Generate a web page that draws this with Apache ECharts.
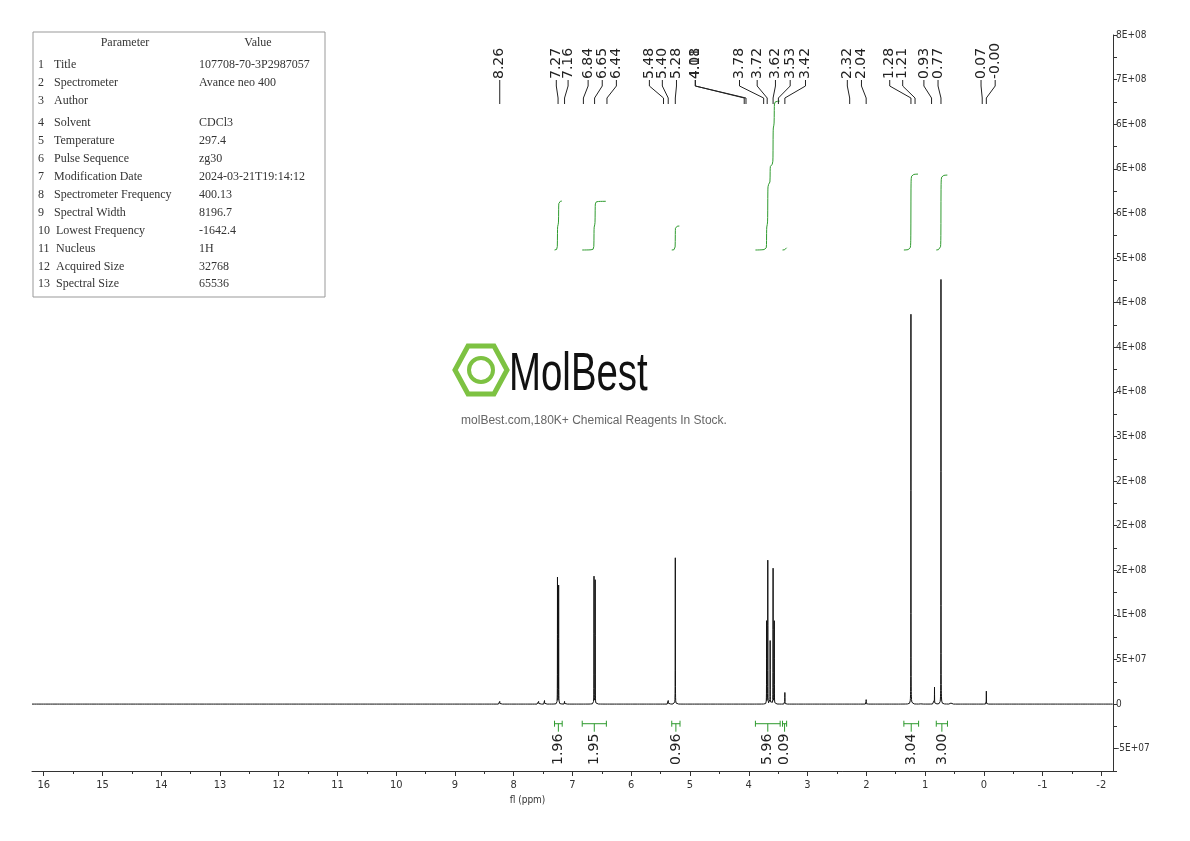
<!DOCTYPE html>
<html><head><meta charset="utf-8">
<script src="https://cdn.jsdelivr.net/npm/echarts@6/dist/echarts.min.js"></script>
<style>html,body{margin:0;background:#fff}#c{width:1190px;height:841px}</style>
</head><body><div id="c"></div>
<script>
// peaks: [ppm, height]
const peaks = [
  [8.26, 3e6], [7.60, 3e6], [7.50, 4e6], [7.28, 1.42e8], [7.26, 1.33e8], [7.16, 3e6],
  [6.66, 1.43e8], [6.64, 1.39e8], [5.40, 4e6], [5.28, 1.64e8], [4.08, 1.5e6],
  [3.73, 0.93e8], [3.71, 1.61e8], [3.67, 0.71e8], [3.62, 1.52e8], [3.60, 0.93e8],
  [3.42, 1.3e7], [2.04, 5e6], [1.43, 2e6], [1.28, 4.37e8], [1.11, 2e6],
  [0.93, 2e6], [0.88, 1.9e7], [0.77, 4.76e8], [0.60, 2e6], [0.00, 1.45e7]
];
const peakLabels = ['8.26','7.27','7.16','6.84','6.65','6.44','5.48','5.40','5.28','4.11','4.08',
  '3.78','3.72','3.62','3.53','3.42','2.32','2.04','1.28','1.21','0.93','0.77','0.07','-0.00'];
const labelAt = [8.26,7.30,7.10,6.76,6.52,6.28,5.72,5.50,5.26,4.94,4.94,
  4.19,3.89,3.58,3.33,3.07,2.36,2.12,1.64,1.42,1.06,0.82,0.09,-0.15];
// integrals: [from, to, value]
const integrals = [
  [7.33, 7.20, 1.96], [6.86, 6.45, 1.95], [5.34, 5.20, 0.96],
  [3.92, 3.50, 5.96], [3.46, 3.39, 0.09], [1.40, 1.15, 3.04], [0.85, 0.66, 3.00]
];
const tableRows = [
  ['1','Title','107708-70-3P2987057'], ['2','Spectrometer','Avance neo 400'], ['3','Author',''],
  ['4','Solvent','CDCl3'], ['5','Temperature','297.4'], ['6','Pulse Sequence','zg30'],
  ['7','Modification Date','2024-03-21T19:14:12'], ['8','Spectrometer Frequency','400.13'],
  ['9','Spectral Width','8196.7'], ['10','Lowest Frequency','-1642.4'], ['11','Nucleus','1H'],
  ['12','Acquired Size','32768'], ['13','Spectral Size','65536']
];
const yLabels = {'-50000000':'-5E+07','0':'0','50000000':'5E+07','100000000':'1E+08','150000000':'2E+08',
  '200000000':'2E+08','250000000':'2E+08','300000000':'3E+08','350000000':'4E+08','400000000':'4E+08',
  '450000000':'4E+08','500000000':'5E+08','550000000':'6E+08','600000000':'6E+08','650000000':'6E+08',
  '700000000':'7E+08','750000000':'8E+08'};

const W = 0.0011;
function spec(x){let s=0;for(const p of peaks){const d=(x-p[0])/W;s+=p[1]/(1+d*d);}return s;}
const line=[];
for(let i=16200;i>=-2150;i--){const x=i/1000;line.push([x,spec(x)]);}

const intBase = 5.09e8, perUnit = 2.8e7;
const intSeries = integrals.map(g=>{
  let cum=0;const arr=[];
  for(let i=Math.round(g[0]*1000);i>=Math.round(g[1]*1000);i--){const x=i/1000;cum+=spec(x);arr.push([x,cum]);}
  const tot=cum||1;
  return {type:'line',data:arr.map(a=>[a[0], intBase + a[1]/tot*g[2]*perUnit]),symbol:'none',
    lineStyle:{color:'#2e9a2e',width:1},silent:true,z:3};
});

const cond = '"DejaVu Sans Condensed", "Liberation Sans Narrow", sans-serif';
const chart = echarts.init(document.getElementById('c'));
chart.setOption({
  animation:false,
  grid:[{left:32,right:77,top:35,bottom:70},{left:43.7,right:88.7,top:35,bottom:70}],
  xAxis:[
    {type:'value',gridIndex:0,inverse:true,min:-2.15,max:16.2,axisLine:{onZero:false,lineStyle:{color:'#333'}},
      axisTick:{show:false},axisLabel:{show:false},splitLine:{show:false}},
    {type:'value',gridIndex:1,inverse:true,min:-2,max:16,interval:1,
      axisLine:{show:false,onZero:false},axisTick:{show:true,length:5,lineStyle:{color:'#333'}},
      minorTick:{show:true,splitNumber:2,length:3,lineStyle:{color:'#333'}},splitLine:{show:false},
      axisLabel:{color:'#333',fontFamily:cond,fontSize:11,margin:9},
      name:'fl (ppm)',nameLocation:'middle',nameGap:22,nameTextStyle:{fontSize:10,fontFamily:cond,color:'#333',padding:[0,90,0,0]}}
  ],
  yAxis:[
    {type:'value',gridIndex:0,position:'right',min:-7.5e7,max:7.5e8,interval:2.5e7,
      axisLine:{show:true,onZero:false,lineStyle:{color:'#333'}},axisTick:{show:true,length:4},
      splitLine:{show:false},
      axisLabel:{color:'#333',fontFamily:cond,fontSize:10,margin:3,formatter:v=>yLabels[String(Math.round(v))]||''}},
    {type:'value',gridIndex:1,min:0,max:1,show:false}
  ],
  graphic:[
    {type:'rect',shape:{x:33,y:32,width:292,height:265},style:{fill:'none',stroke:'#999',lineWidth:1}},
    {type:'text',x:125,y:43,style:{text:'Parameter',font:'12px "Liberation Serif", serif',fill:'#333',align:'center',verticalAlign:'middle'}},
    {type:'text',x:258,y:43,style:{text:'Value',font:'12px "Liberation Serif", serif',fill:'#333',align:'center',verticalAlign:'middle'}},
    ...tableRows.flatMap((r,i)=>{const y=[65,83,101,123,141,159,177,195,213,231,249,267,284][i];
      return [0,1,2].map(k=>({type:'text',x:[38,54,199][k]+(k===1&&i>=9?2:0),y:y,
        style:{text:r[k],font:'12px "Liberation Serif", serif',fill:'#333',verticalAlign:'middle'}}));}),
    {type:'polygon',shape:{points:[[468,346],[494,346],[507,370],[494,394],[468,394],[455,370]]},style:{fill:'none',stroke:'#7dc242',lineWidth:5}},
    {type:'circle',shape:{cx:481,cy:370,r:12},style:{fill:'none',stroke:'#7dc242',lineWidth:4}},
    {type:'text',x:509,y:375,scaleX:0.8,scaleY:1.1,style:{text:'MolBest',font:'48px "Liberation Sans", sans-serif',fill:'#111',verticalAlign:'middle'}},
    {type:'text',x:594,y:421,style:{text:'molBest.com,180K+ Chemical Reagents In Stock.',font:'12px "Liberation Sans", sans-serif',fill:'#666',align:'center',verticalAlign:'middle'}}
  ],
  series:[
    {type:'line',data:line,symbol:'none',lineStyle:{color:'#111',width:1},silent:true,z:4},
    ...intSeries,
    {type:'custom',silent:true,z:5,data:integrals.map(g=>[g[0],g[1],g[2]]),
      renderItem:(p,api)=>{const a=api.coord([api.value(0),-2.2e7]),b=api.coord([api.value(1),-2.2e7]);
        const mx=(a[0]+b[0])/2,c='#2e9a2e';
        return {type:'group',children:[
          {type:'line',shape:{x1:a[0],y1:a[1],x2:b[0],y2:b[1]},style:{stroke:c,lineWidth:1}},
          {type:'line',shape:{x1:a[0],y1:a[1]-3,x2:a[0],y2:a[1]+3},style:{stroke:c,lineWidth:1}},
          {type:'line',shape:{x1:b[0],y1:b[1]-3,x2:b[0],y2:b[1]+3},style:{stroke:c,lineWidth:1}},
          {type:'line',shape:{x1:mx,y1:a[1],x2:mx,y2:a[1]+8},style:{stroke:c,lineWidth:1}},
          {type:'text',x:mx,y:a[1]+10,rotation:Math.PI/2,style:{text:api.value(2).toFixed(2),font:'14px "DejaVu Sans", sans-serif',fill:'#222',align:'right',verticalAlign:'middle'}}
        ]};}},
    {type:'custom',silent:true,z:5,data:peakLabels.map((t,i)=>[labelAt[i],parseFloat(t),i]),
      renderItem:(p,api)=>{const lx=api.coord([api.value(0),0])[0],px=api.coord([api.value(1),0])[0];
        const t=peakLabels[api.value(2)];
        return {type:'group',children:[
          {type:'text',x:lx,y:79,rotation:Math.PI/2,style:{text:t,font:'14px "DejaVu Sans", sans-serif',fill:'#222',align:'left',verticalAlign:'middle'}},
          {type:'polyline',shape:{points:[[lx,80],[lx,86],[px,98],[px,104]]},style:{stroke:'#222',fill:'none',lineWidth:1}}
        ]};}}
  ]
});
</script></body></html>
